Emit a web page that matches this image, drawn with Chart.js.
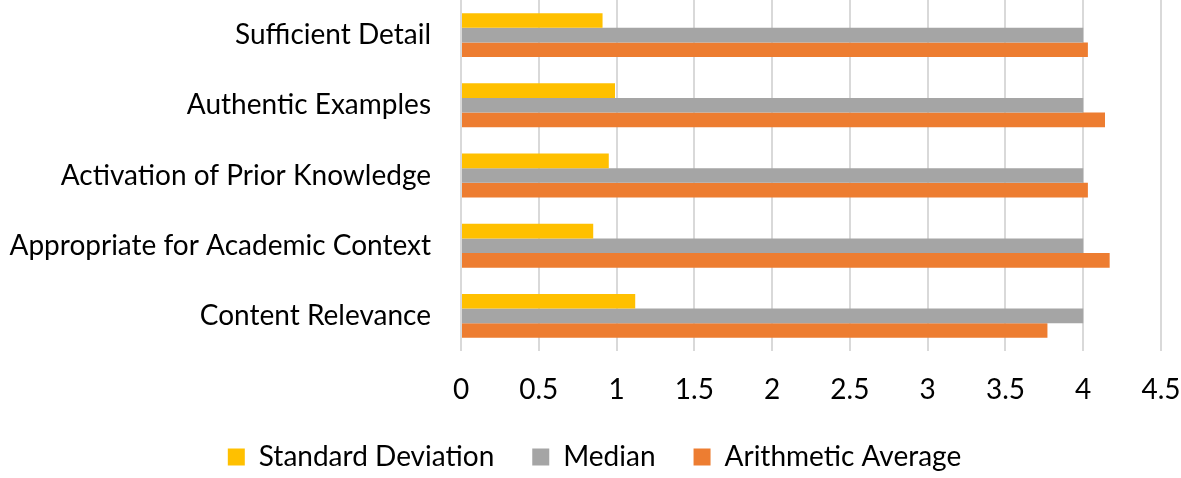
<!DOCTYPE html>
<html>
<head>
<meta charset="utf-8">
<script src="https://cdn.jsdelivr.net/npm/chart.js@4"></script>
<style>
  html, body { margin: 0; padding: 0; background: #fff; }
  #wrap { width: 1181px; height: 478px; }
</style>
</head>
<body>
<div id="wrap"><canvas id="bar-chart"></canvas></div>
<script>
const categories = [
  "Sufficient Detail",
  "Authentic Examples",
  "Activation of Prior Knowledge",
  "Appropriate for Academic Context",
  "Content Relevance",
];
const stdDev = [0.91, 0.99, 0.95, 0.85, 1.12];
const median = [4, 4, 4, 4, 4];
const average = [4.03, 4.14, 4.03, 4.17, 3.77];
const xTicks = [0, 0.5, 1, 1.5, 2, 2.5, 3, 3.5, 4, 4.5];

const font = { family: "Lato", size: 28 };

// nudge the legend a bit right/down, like the original
const legendShift = {
  id: "legendShift",
  afterLayout(chart) {
    const legend = chart.legend;
    if (!legend) return;
    legend.left += 14;
    legend.right += 14;
    legend.top += 3;
    legend.bottom += 3;
  },
};

const chart = new Chart(document.querySelector("#bar-chart"), {
  type: "bar",
  data: {
    labels: categories,
    datasets: [
      { label: "Standard Deviation", data: stdDev, backgroundColor: "#FFC000" },
      { label: "Median", data: median, backgroundColor: "#A5A5A5" },
      { label: "Arithmetic Average", data: average, backgroundColor: "#ED7D31" },
    ],
  },
  plugins: [legendShift],
  options: {
    indexAxis: "y",
    responsive: true,
    maintainAspectRatio: false,
    animation: false,
    categoryPercentage: 0.626,
    barPercentage: 1.0,
    layout: {
      padding: { left: 0, right: 20, top: 0, bottom: 0 },
    },
    plugins: {
      tooltip: { enabled: false },
      legend: {
        position: "bottom",
        labels: {
          font: font,
          color: "#000",
          boxWidth: 17,
          boxHeight: 17,
          padding: 38,
        },
      },
    },
    scales: {
      x: {
        min: 0,
        max: 4.5,
        afterBuildTicks: (scale) => {
          scale.ticks = xTicks.map((v) => ({ value: v }));
        },
        afterFit: (scale) => {
          scale.height = 51;
          scale.paddingLeft = 0;
          scale.paddingRight = 0;
        },
        grid: { color: "#D9D9D9", lineWidth: 2, drawTicks: false },
        border: { display: false },
        ticks: {
          font: font,
          color: "#000",
          padding: 22,
          maxRotation: 0,
          callback: (value) => value.toString(),
        },
      },
      y: {
        afterFit: (scale) => {
          scale.width = 461;
          scale.paddingTop = 0;
          scale.paddingBottom = 0;
        },
        grid: { display: false, drawTicks: false },
        border: { display: false },
        ticks: { font: font, color: "#000", padding: 30, autoSkip: false },
      },
    },
  },
});
</script>
</body>
</html>
